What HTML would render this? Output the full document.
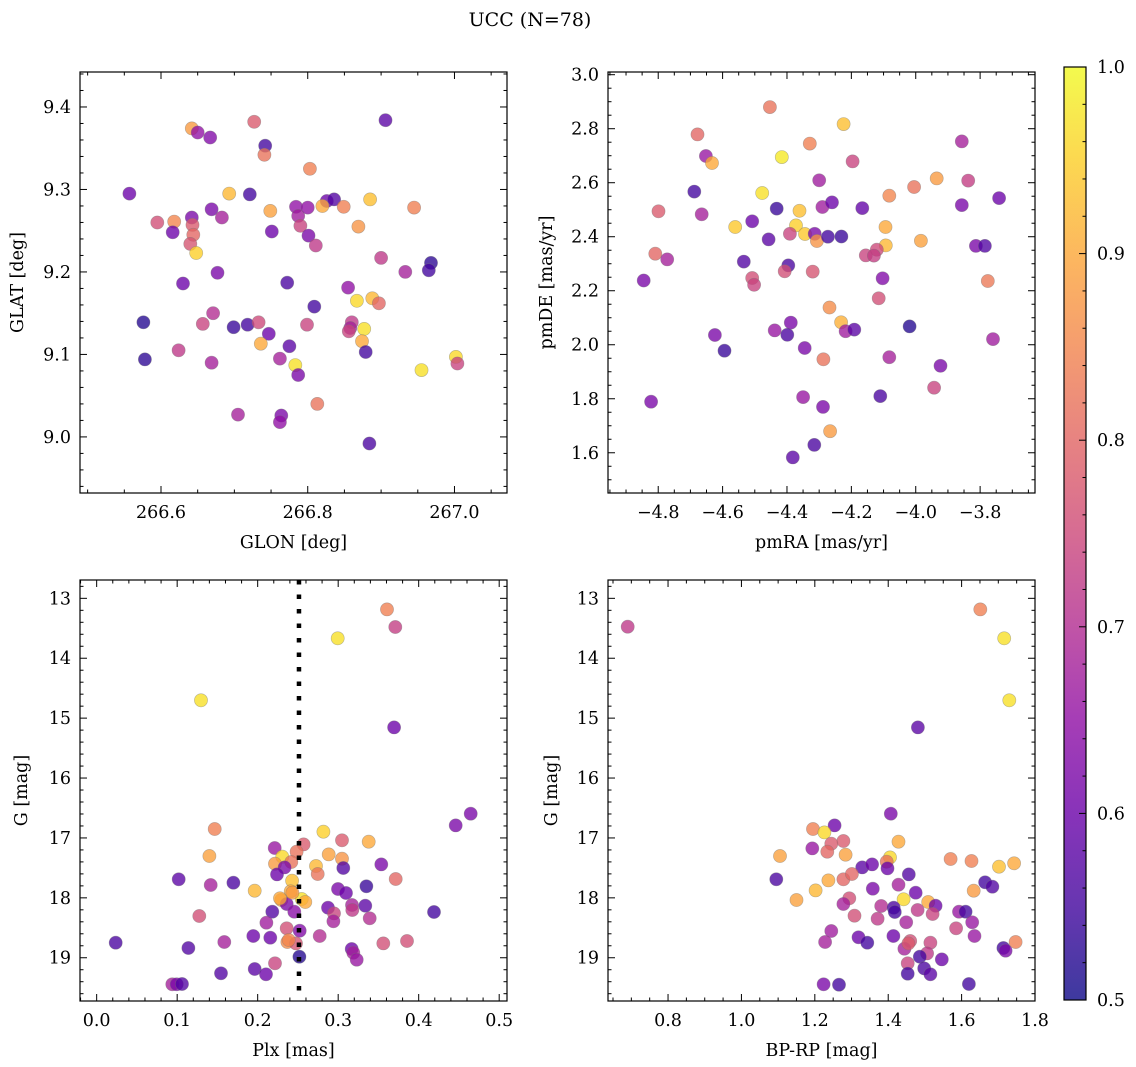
<!DOCTYPE html>
<html><head><meta charset="utf-8"><style>
html,body{margin:0;padding:0;background:#fff;}
svg{display:block;font-family:"DejaVu Serif","Liberation Serif",serif;}
</style></head>
<body>
<svg id="fig" width="1136" height="1067" viewBox="0 0 1136 1067" xmlns="http://www.w3.org/2000/svg">
<defs>
<linearGradient id="plasma" x1="0" y1="1" x2="0" y2="0">
<stop offset="0" stop-color="#0d0887"/><stop offset="0.1" stop-color="#41049d"/><stop offset="0.2" stop-color="#6a00a8"/><stop offset="0.3" stop-color="#8f0da4"/><stop offset="0.4" stop-color="#b12a90"/><stop offset="0.5" stop-color="#cc4778"/><stop offset="0.6" stop-color="#e16462"/><stop offset="0.7" stop-color="#f2844b"/><stop offset="0.8" stop-color="#fca636"/><stop offset="0.9" stop-color="#fcce25"/><stop offset="1" stop-color="#f0f921"/>
</linearGradient>
</defs>
<text x="530" y="26" font-size="19" text-anchor="middle">UCC (N=78)</text>
</svg>
<script>
// ---- Panel 1: GLON vs GLAT ----
const glon1 = [266.557,266.595,266.618,266.616,266.642,266.643,266.644,266.640,266.648,266.642,266.650,266.667,266.669,266.683,266.693,266.721,266.727,266.742,266.741,266.749,266.751,266.784,266.787,266.800,266.790,266.801,266.811,266.803,266.826,266.836,266.820,266.849,266.885,266.869,266.906,266.945,266.900,266.933,266.968,266.965,266.677,266.630,266.772,266.855,266.867,266.888,266.897,266.809,266.576,266.671,266.657,266.699,266.718,266.733,266.747,266.736,266.775,266.799,266.860,266.858,266.856,266.877,266.874,266.879,266.578,266.624,266.669,266.762,266.783,266.787,266.955,267.002,267.004,266.813,266.705,266.764,266.762,266.884];
const glat1 = [9.295,9.260,9.261,9.248,9.266,9.257,9.245,9.234,9.223,9.374,9.369,9.363,9.276,9.266,9.295,9.294,9.382,9.353,9.342,9.274,9.249,9.279,9.268,9.278,9.256,9.244,9.232,9.325,9.286,9.288,9.280,9.279,9.288,9.255,9.384,9.278,9.217,9.200,9.211,9.202,9.199,9.186,9.187,9.181,9.165,9.168,9.162,9.158,9.139,9.150,9.137,9.133,9.136,9.139,9.125,9.113,9.110,9.136,9.139,9.132,9.128,9.131,9.116,9.103,9.094,9.105,9.090,9.095,9.087,9.075,9.081,9.097,9.089,9.040,9.027,9.026,9.018,8.992];
const prob1 = [0.6,0.76,0.85,0.6,0.62,0.78,0.8,0.77,0.95,0.88,0.65,0.63,0.62,0.68,0.92,0.55,0.78,0.55,0.82,0.89,0.6,0.65,0.67,0.65,0.74,0.62,0.72,0.84,0.6,0.57,0.9,0.84,0.93,0.87,0.58,0.84,0.72,0.68,0.53,0.55,0.62,0.6,0.56,0.65,0.96,0.92,0.8,0.55,0.52,0.7,0.74,0.54,0.55,0.75,0.6,0.9,0.58,0.74,0.72,0.68,0.74,0.97,0.9,0.55,0.53,0.72,0.68,0.68,0.97,0.62,0.97,0.96,0.74,0.82,0.68,0.62,0.65,0.56];
// ---- Panel 2: pmRA vs pmDE ----
const pmra2 = [-4.453,-4.224,-4.678,-4.329,-3.857,-4.652,-4.633,-4.416,-4.196,-4.300,-3.935,-4.005,-3.837,-4.688,-4.477,-4.082,-3.741,-3.857,-4.799,-4.665,-4.432,-4.361,-4.290,-4.260,-4.166,-4.508,-4.561,-4.372,-4.094,-4.457,-4.391,-4.344,-4.314,-4.307,-4.273,-4.231,-3.984,-4.093,-4.121,-4.155,-4.130,-3.813,-3.785,-4.809,-4.772,-4.534,-4.396,-4.407,-4.320,-4.508,-4.502,-4.103,-4.845,-3.776,-4.115,-4.268,-4.388,-4.232,-4.438,-4.218,-4.191,-4.019,-4.624,-4.399,-4.594,-4.345,-3.760,-4.287,-4.082,-3.923,-3.943,-4.822,-4.350,-4.288,-4.110,-4.266,-4.315,-4.382];
const pmde2 = [2.880,2.817,2.779,2.745,2.753,2.699,2.673,2.695,2.679,2.609,2.616,2.584,2.608,2.567,2.562,2.552,2.543,2.517,2.494,2.483,2.504,2.496,2.510,2.527,2.506,2.457,2.436,2.442,2.436,2.390,2.411,2.410,2.411,2.384,2.400,2.401,2.385,2.368,2.352,2.331,2.330,2.366,2.366,2.337,2.316,2.308,2.294,2.272,2.271,2.247,2.222,2.246,2.238,2.236,2.172,2.138,2.082,2.083,2.053,2.050,2.056,2.068,2.036,2.037,1.978,1.988,2.021,1.946,1.954,1.922,1.841,1.789,1.806,1.770,1.810,1.680,1.629,1.583];
const prob2 = [0.82,0.93,0.8,0.84,0.68,0.66,0.9,0.98,0.74,0.67,0.88,0.82,0.73,0.55,0.97,0.85,0.6,0.62,0.78,0.68,0.54,0.93,0.67,0.6,0.59,0.6,0.94,0.95,0.9,0.58,0.74,0.94,0.62,0.87,0.55,0.54,0.89,0.92,0.75,0.74,0.73,0.62,0.57,0.8,0.68,0.57,0.56,0.76,0.77,0.76,0.74,0.63,0.62,0.83,0.76,0.86,0.62,0.91,0.66,0.67,0.58,0.52,0.62,0.56,0.54,0.62,0.67,0.82,0.68,0.62,0.74,0.62,0.66,0.62,0.56,0.88,0.56,0.58];
// ---- Panel 3: Plx vs G ----
const plx3 = [0.3607,0.3710,0.2994,0.1296,0.3694,0.4646,0.4460,0.1466,0.2816,0.3048,0.3379,0.2571,0.2211,0.2484,0.1400,0.2882,0.3048,0.2306,0.2418,0.2215,0.2335,0.2725,0.2745,0.3064,0.3536,0.2240,0.1019,0.1698,0.1416,0.2427,0.3714,0.3350,0.2998,0.3097,0.1963,0.2410,0.2294,0.2360,0.2547,0.2592,0.2455,0.2182,0.2874,0.2948,0.3172,0.3176,0.3337,0.2940,0.3391,0.4190,0.1275,0.2108,0.2360,0.2522,0.1946,0.2157,0.2770,0.1586,0.2369,0.2476,0.3561,0.3855,0.0236,0.1139,0.3168,0.3188,0.3230,0.2518,0.2215,0.1545,0.1963,0.2104,0.0940,0.0994,0.1060,0.2385,0.2431,0.2277];
const gmag3 = [13.184,13.479,13.668,14.703,15.154,16.595,16.790,16.851,16.895,17.040,17.062,17.107,17.168,17.229,17.302,17.274,17.346,17.313,17.402,17.430,17.491,17.469,17.602,17.502,17.441,17.608,17.691,17.747,17.786,17.713,17.686,17.808,17.853,17.919,17.880,17.891,18.036,18.103,18.019,18.069,18.231,18.231,18.164,18.259,18.120,18.203,18.131,18.392,18.342,18.237,18.303,18.415,18.509,18.548,18.637,18.665,18.637,18.737,18.737,18.760,18.760,18.721,18.748,18.837,18.854,18.915,19.032,18.982,19.093,19.260,19.188,19.277,19.444,19.444,19.439,18.704,17.914,18.008];
const prob3 = [0.84,0.73,0.97,0.97,0.6,0.62,0.62,0.84,0.95,0.78,0.9,0.78,0.66,0.82,0.89,0.89,0.87,0.96,0.82,0.88,0.62,0.92,0.82,0.57,0.62,0.6,0.58,0.56,0.68,0.93,0.8,0.54,0.62,0.6,0.92,0.9,0.88,0.62,0.97,0.9,0.64,0.57,0.6,0.74,0.68,0.72,0.58,0.68,0.7,0.55,0.76,0.67,0.76,0.63,0.6,0.6,0.7,0.68,0.86,0.77,0.76,0.76,0.56,0.57,0.6,0.68,0.66,0.52,0.74,0.57,0.58,0.6,0.68,0.62,0.57,0.85,0.88,0.9];
const plxLine = 0.2513;
// ---- Panel 4: BP-RP vs G ----
const bprp4 = [0.690,1.651,1.716,1.730,1.481,1.407,1.254,1.195,1.226,1.278,1.245,1.428,1.193,1.234,1.105,1.284,1.405,1.396,1.570,1.627,1.702,1.743,1.329,1.356,1.398,1.456,1.095,1.237,1.278,1.301,1.202,1.358,1.428,1.664,1.684,1.633,1.475,1.150,1.294,1.278,1.442,1.509,1.529,1.381,1.415,1.418,1.480,1.521,1.593,1.611,1.308,1.371,1.449,1.629,1.245,1.585,1.319,1.343,1.414,1.635,1.228,1.460,1.515,1.747,1.444,1.455,1.506,1.486,1.546,1.453,1.714,1.720,1.498,1.515,1.453,1.224,1.266,1.620];
const gmag4 = [13.473,13.184,13.668,14.703,15.154,16.595,16.790,16.851,16.907,17.051,17.096,17.062,17.174,17.229,17.302,17.279,17.324,17.396,17.352,17.385,17.480,17.424,17.491,17.441,17.508,17.608,17.691,17.708,17.691,17.602,17.875,17.847,17.780,17.741,17.814,17.880,17.914,18.036,18.008,18.103,18.025,18.069,18.131,18.136,18.164,18.237,18.203,18.270,18.231,18.231,18.298,18.348,18.409,18.409,18.554,18.509,18.659,18.748,18.637,18.637,18.737,18.721,18.748,18.737,18.849,18.760,18.927,18.982,19.027,19.093,18.837,18.882,19.177,19.277,19.266,19.444,19.450,19.439];
const prob4 = [0.72,0.84,0.97,0.97,0.58,0.62,0.6,0.84,0.96,0.78,0.78,0.9,0.66,0.8,0.89,0.89,0.96,0.82,0.84,0.84,0.93,0.9,0.58,0.6,0.6,0.57,0.56,0.9,0.8,0.8,0.92,0.62,0.68,0.55,0.57,0.88,0.6,0.89,0.76,0.68,0.96,0.9,0.6,0.7,0.56,0.55,0.72,0.74,0.66,0.55,0.76,0.72,0.68,0.66,0.67,0.74,0.6,0.55,0.6,0.66,0.68,0.76,0.74,0.84,0.68,0.78,0.72,0.55,0.6,0.74,0.55,0.62,0.56,0.58,0.55,0.62,0.55,0.55];
// ---- Colorbar ----
const cbTicks = [0.5,0.6,0.7,0.8,0.9,1.0];

const NS = "http://www.w3.org/2000/svg";
const svg = document.getElementById('fig');
function mk(tag, attrs, parent){ const e=document.createElementNS(NS,tag); for(const k in attrs) e.setAttribute(k,attrs[k]); (parent||svg).appendChild(e); return e; }

const stops=[[0,[13,8,135]],[0.1,[65,4,157]],[0.2,[106,0,168]],[0.3,[143,13,164]],[0.4,[177,42,144]],[0.5,[204,71,120]],[0.6,[225,100,98]],[0.7,[242,132,75]],[0.8,[252,166,54]],[0.9,[252,206,37]],[1,[240,249,33]]];
function plasma(v){ let t=Math.max(0,Math.min(1,(v-0.5)/0.5)); for(let i=0;i<stops.length-1;i++){ const a=stops[i],b=stops[i+1]; if(t<=b[0]){ const f=(t-a[0])/(b[0]-a[0]); const c=a[1].map((x,j)=>Math.round(x+(b[1][j]-x)*f)); return `rgb(${c[0]},${c[1]},${c[2]})`; } } return 'rgb(240,249,33)'; }

function fmt(v,d){ let s=v.toFixed(d); if(v<0) s='\u2212'+s.slice(1); return s; }
const FS=17.5;

function panel(o){
  const g=mk('g',{});
  
  
  const sx=v=>o.x0+(v-o.xmin)/(o.xmax-o.xmin)*(o.x1-o.x0);
  const sy=o.yinv? v=>o.y0+(v-o.ymin)/(o.ymax-o.ymin)*(o.y1-o.y0) : v=>o.y1-(v-o.ymin)/(o.ymax-o.ymin)*(o.y1-o.y0);
  const pg=mk('g',{},g);
  
  
  for(let i=0;i<o.xs.length;i++){
    const c=mk('circle',{cx:sx(o.xs[i]).toFixed(1),cy:sy(o.ys[i]).toFixed(1),r:6.6,fill:plasma(o.cs[i]),'fill-opacity':0.78,stroke:'#777','stroke-opacity':0.5,'stroke-width':0.6},pg);
    
    
  }
  if(o.vline!==undefined){
    const l=mk('line',{x1:sx(o.vline),x2:sx(o.vline),y1:o.y0,y2:o.y1,stroke:'#000','stroke-width':4.5,'stroke-dasharray':'4.5 10'},g);
    
    
  }
  const fr=mk('rect',{x:o.x0,y:o.y0,width:o.x1-o.x0,height:o.y1-o.y0,fill:'none',stroke:'#000','stroke-width':1.2},g);
  
  
  const tg=mk('g',{stroke:'#000','stroke-width':1},g);
  const eps=1e-9;
  for(let v=Math.ceil(o.xmin/o.xminor-eps)*o.xminor; v<=o.xmax+eps; v+=o.xminor){
    const X=sx(v); const maj=Math.abs(v/o.xmajor-Math.round(v/o.xmajor))<1e-6; const L=maj?7:3.5;
    mk('line',{x1:X,x2:X,y1:o.y1,y2:o.y1-L},tg); mk('line',{x1:X,x2:X,y1:o.y0,y2:o.y0+L},tg);
    if(maj){ const t=mk('text',{x:X,y:o.y1+25,'font-size':FS,'text-anchor':'middle',stroke:'none',fill:'#000'},g); t.textContent=fmt(v,o.xdec);
      
       }
  }
  for(let v=Math.ceil(o.ymin/o.yminor-eps)*o.yminor; v<=o.ymax+eps; v+=o.yminor){
    const Y=sy(v); const maj=Math.abs(v/o.ymajor-Math.round(v/o.ymajor))<1e-6; const L=maj?7:3.5;
    mk('line',{x1:o.x0,x2:o.x0+L,y1:Y,y2:Y},tg); mk('line',{x1:o.x1,x2:o.x1-L,y1:Y,y2:Y},tg);
    if(maj){ const t=mk('text',{x:o.x0-9,y:Y+6,'font-size':FS,'text-anchor':'end',stroke:'none',fill:'#000'},g); t.textContent=fmt(v,o.ydec);
      
       }
  }
  const xl=mk('text',{x:(o.x0+o.x1)/2,y:o.y1+55,'font-size':FS,'text-anchor':'middle'},g); xl.textContent=o.xlabel;
  
  
  const yl=mk('text',{x:0,y:0,'font-size':FS,'text-anchor':'middle',transform:`translate(${o.ylx},${(o.y0+o.y1)/2}) rotate(-90)`},g); yl.textContent=o.ylabel;
  
  
}

panel({name:'glon-glat-panel',x0:80,x1:507,y0:72,y1:493,xmin:266.4896,xmax:267.0716,ymin:8.932,ymax:9.4424,xmajor:0.2,xminor:0.05,ymajor:0.1,yminor:0.02,xdec:1,ydec:1,xs:glon1,ys:glat1,cs:prob1,xlabel:'GLON [deg]',ylabel:'GLAT [deg]',ylx:23});
panel({name:'pm-panel',x0:608,x1:1035,y0:72,y1:493,xmin:-4.956,xmax:-3.6295,ymin:1.451,ymax:3.01,xmajor:0.2,xminor:0.05,ymajor:0.2,yminor:0.05,xdec:1,ydec:1,xs:pmra2,ys:pmde2,cs:prob2,xlabel:'pmRA [mas/yr]',ylabel:'pmDE [mas/yr]',ylx:552});
panel({name:'plx-g-panel',x0:80,x1:507,y0:580,y1:1001,xmin:-0.0207,xmax:0.5097,ymin:12.694,ymax:19.722,yinv:true,xmajor:0.1,xminor:0.02,ymajor:1,yminor:0.2,xdec:1,ydec:0,xs:plx3,ys:gmag3,cs:prob3,vline:plxLine,xlabel:'Plx [mas]',ylabel:'G [mag]',ylx:27});
panel({name:'cmd-panel',x0:608,x1:1035,y0:580,y1:1001,xmin:0.6364,xmax:1.8,ymin:12.694,ymax:19.722,yinv:true,xmajor:0.2,xminor:0.05,ymajor:1,yminor:0.2,xdec:1,ydec:0,xs:bprp4,ys:gmag4,cs:prob4,xlabel:'BP-RP [mag]',ylabel:'G [mag]',ylx:557});

(function(){
  const x0=1064,x1=1086,y0=67,y1=1000,vmin=0.5,vmax=1.0;
  const g=mk('g',{});
  
  
  const sy=v=>y1-(v-vmin)/(vmax-vmin)*(y1-y0);
  mk('rect',{x:x0,y:y0,width:x1-x0,height:y1-y0,fill:'url(#plasma)','fill-opacity':0.8},g);
  mk('rect',{x:x0,y:y0,width:x1-x0,height:y1-y0,fill:'none',stroke:'#000','stroke-width':1.2},g);
  for(let k=0;k<=25;k++){ const v=vmin+k*0.02; const Y=sy(v); const maj=k%5===0;
    mk('line',{x1:x1,x2:x1-(maj?7:3.5),y1:Y,y2:Y,stroke:'#000','stroke-width':1},g); }
  cbTicks.forEach(v=>{ const t=mk('text',{x:x1+11,y:sy(v)+6,'font-size':FS},g); t.textContent=v.toFixed(1);
    
     });
})();
</script>
</body></html>
